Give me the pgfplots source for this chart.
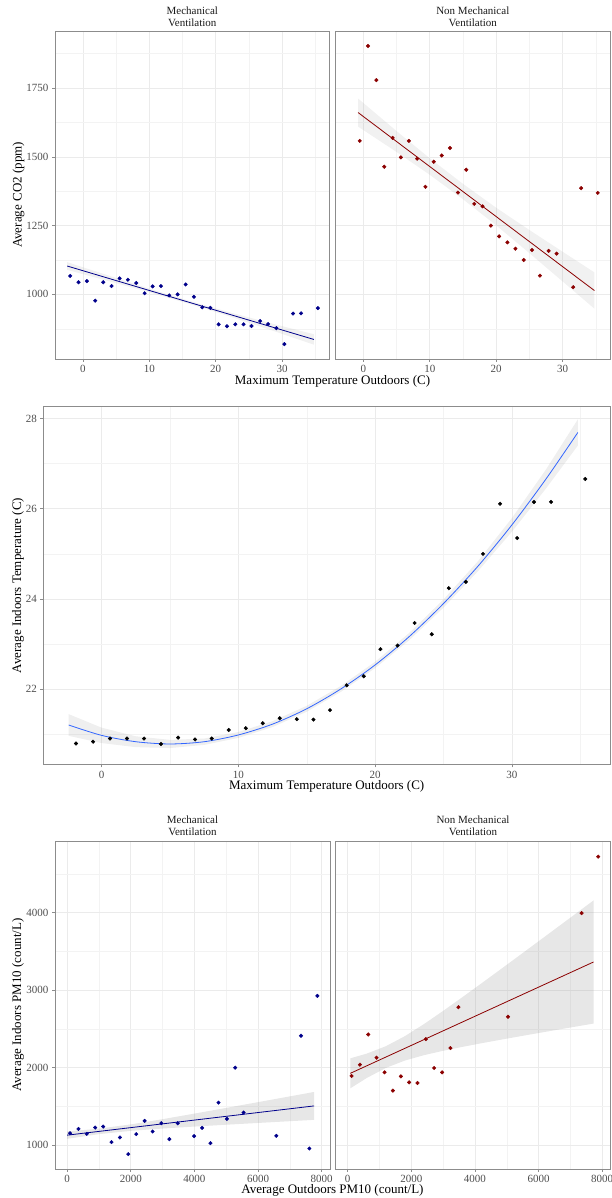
\documentclass[border=0pt]{standalone}
\usepackage{fontspec}
\setmainfont{Liberation Serif}
\usepackage{pgfplots}
\pgfplotsset{compat=1.18}

\definecolor{panelgrid}{HTML}{EBEBEB}
\definecolor{minorgrid}{HTML}{F3F3F3}
\definecolor{framegray}{HTML}{8C8C8C}
\definecolor{ticktext}{HTML}{4D4D4D}
\definecolor{striptext}{HTML}{1A1A1A}
\definecolor{mvblue}{HTML}{00008B}
\definecolor{nmvred}{HTML}{8B0000}
\definecolor{fitblue}{HTML}{3366FF}
\definecolor{bandgray}{HTML}{999999}

\pgfplotsset{
  facet/.style={
    scale only axis, anchor=south west,
    axis line style={framegray, line width=0.6pt},
    grid=both,
    major grid style={panelgrid, line width=0.6pt},
    minor grid style={minorgrid, line width=0.4pt},
    tick align=outside, tick pos=left,
    major tick length=3pt, minor tick length=0pt,
    every tick/.style={framegray, line width=0.6pt},
    tick label style={font=\fontsize{11}{12}\selectfont, text=ticktext},
    /pgf/number format/1000 sep={},
    /pgf/number format/assume math mode=true,
    scaled ticks=false,
  },
  inner facet/.style={yticklabels={}, ytick style={draw=none}},
  pts/.style={only marks, mark=*, mark size=1.8pt, color=#1, mark options={solid, fill=#1}},
  band/.style={draw=none, fill=bandgray, fill opacity=#1, forget plot},
  fit/.style={#1, line width=0.8pt, mark=none},
  co2/.style={xmin=-4.2, xmax=37.15, ymin=765, ymax=1955,
    xtick={0,10,20,30}, minor xtick={5,15,25,35},
    ytick={1000,1250,1500,1750}, minor ytick={875,1125,1375,1625,1875},
    width=274.5pt, height=327.3pt},
  pm/.style={xmin=-380, xmax=8260, ymin=692, ymax=4918,
    xtick={0,2000,4000,6000,8000}, minor xtick={1000,3000,5000,7000},
    ytick={1000,2000,3000,4000}, minor ytick={1500,2500,3500,4500},
    width=275pt, height=327.3pt},
}

\tikzset{
  strip/.style={font=\fontsize{11}{12}\selectfont, align=center, text=striptext},
  axtitle/.style={font=\fontsize{13}{15}\selectfont},
}

\begin{document}
\begin{tikzpicture}
\path[use as bounding box] (0pt,0pt) rectangle (612pt,1198pt);

% ---------- CO2 vs outdoor temperature, mechanical ventilation ----------
\begin{axis}[facet, co2, at={(55pt,839pt)}]
\addplot[pts=mvblue] coordinates {
(-1.91,1067) (-0.65,1044) (0.60,1048) (1.86,977) (3.07,1044) (4.32,1030)
(5.53,1058) (6.78,1053) (8.04,1041) (9.30,1004) (10.50,1029) (11.76,1030)
(13.00,996) (14.27,1000) (15.48,1036) (16.73,991) (17.99,953) (19.20,951)
(20.45,891) (21.70,884) (22.96,891) (24.20,891) (25.40,885) (26.70,903)
(27.90,892) (29.15,877) (30.35,819) (31.66,930) (32.86,931) (35.40,950)};
\addplot[band=0.14] coordinates {
(-2.36,1117) (4,1067.3) (10,1020.7) (16,976.5) (22,935.5) (28,896.8) (34.8,855)
(34.8,817) (28,872.8) (22,920.5) (16,965.5) (10,1007.7) (4,1047.3) (-2.36,1089)};
\addplot[fit=mvblue] coordinates {(-2.36,1103) (34.8,836)};
\end{axis}

% ---------- CO2 vs outdoor temperature, non mechanical ventilation ----------
\begin{axis}[facet, co2, inner facet, at={(335.5pt,839pt)}]
\addplot[pts=nmvred] coordinates {
(-0.55,1558) (0.70,1903) (1.95,1779) (3.15,1464) (4.40,1569) (5.65,1498)
(6.85,1558) (8.10,1493) (9.35,1391) (10.60,1482) (11.80,1505) (13.05,1532)
(14.25,1370) (15.50,1453) (16.70,1329) (17.95,1320) (19.20,1250) (20.45,1211)
(21.70,1189) (22.90,1166) (24.15,1125) (25.40,1161) (26.60,1068) (27.90,1158)
(29.10,1148) (31.60,1026) (32.80,1386) (35.30,1369)};
\addplot[band=0.14] coordinates {
(-0.8,1712) (5,1593.6) (10,1494.7) (15,1401.8) (20,1314.9) (25,1234) (30,1155.1) (34.8,1079.8)
(34.8,947.8) (30,1047.1) (25,1150) (20,1250.9) (15,1345.8) (10,1434.7) (5,1517.6) (-0.8,1610)};
\addplot[fit=nmvred] coordinates {(-0.8,1661) (34.8,1013.8)};
\end{axis}

% ---------- indoor vs outdoor temperature ----------
\begin{axis}[facet, at={(43.3pt,433.7pt)}, width=566.7pt, height=357.6pt,
  xmin=-4.27, xmax=37.18, ymin=20.34, ymax=28.26,
  xtick={0,10,20,30}, minor xtick={5,15,25,35},
  ytick={22,24,26,28}, minor ytick={21,23,25,27}]
\addplot[pts=black] coordinates {
(-1.88,20.80) (-0.63,20.84) (0.61,20.91) (1.85,20.91) (3.10,20.91) (4.34,20.79)
(5.59,20.93) (6.83,20.89) (8.05,20.91) (9.29,21.10) (10.54,21.14) (11.78,21.25)
(13.02,21.36) (14.27,21.34) (15.49,21.33) (16.70,21.54) (17.92,22.09) (19.17,22.29)
(20.39,22.89) (21.64,22.97) (22.89,23.47) (24.14,23.22) (25.39,24.24) (26.64,24.38)
(27.89,25.00) (29.14,26.11) (30.39,25.35) (31.62,26.15) (32.87,26.15) (35.37,26.66)};
\addplot[band=0.16] coordinates {
(-2.41,21.45) (0,21.15) (2.5,20.96) (5,20.88) (7.5,20.91) (10,21.055) (12.5,21.295)
(15,21.635) (17.5,22.075) (20,22.61) (22.5,23.25) (25,23.99) (27.5,24.83) (30,25.79)
(32.5,26.87) (34.83,27.98)
(34.83,27.40) (32.5,26.45) (30,25.49) (27.5,24.61) (25,23.81) (22.5,23.09) (20,22.47)
(17.5,21.945) (15,21.505) (12.5,21.165) (10,20.925) (7.5,20.77) (5,20.70) (2.5,20.72)
(0,20.81) (-2.41,20.97)};
\addplot[fit=fitblue, smooth] coordinates {
(-2.41,21.21) (0,20.98) (2.5,20.84) (5,20.79) (7.5,20.84) (10,20.99) (12.5,21.23)
(15,21.57) (17.5,22.01) (20,22.54) (22.5,23.17) (25,23.90) (27.5,24.72) (30,25.64)
(32.5,26.66) (34.83,27.69)};
\end{axis}

% ---------- indoor vs outdoor PM10, mechanical ventilation ----------
\begin{axis}[facet, pm, at={(55pt,29pt)}]
\addplot[pts=mvblue] coordinates {
(94,1154) (357,1210) (620,1146) (882,1227) (1134,1240) (1396,1039) (1659,1099)
(1921,884) (2173,1142) (2436,1313) (2688,1176) (2961,1283) (3213,1077) (3475,1283)
(3990,1116) (4242,1223) (4504,1026) (4756,1549) (5019,1339) (5281,2000) (5544,1421)
(6573,1120) (7350,2412) (7612,957) (7864,2927)};
\addplot[band=0.24] coordinates {
(0,1175.8) (1000,1212.8) (2000,1267.7) (3000,1335.1) (4000,1407.1) (5000,1480.7)
(6000,1555.1) (7000,1629.8) (7760,1686.7)
(7760,1326.5) (7000,1309.4) (6000,1286.7) (5000,1263.7) (4000,1239.9) (3000,1214.5)
(2000,1184.7) (1000,1142.2) (0,1081.8)};
\addplot[fit=mvblue] coordinates {(0,1128.8) (7760,1506.6)};
\end{axis}

% ---------- indoor vs outdoor PM10, non mechanical ventilation ----------
\begin{axis}[facet, pm, inner facet, at={(335.5pt,29pt)}]
\addplot[pts=nmvred] coordinates {
(125,1893) (387,2039) (648,2429) (910,2129) (1161,1940) (1422,1704) (1673,1888)
(1934,1811) (2196,1803) (2457,2369) (2719,1996) (2970,1940) (3231,2253) (3482,2781)
(5040,2657) (7351,3996) (7874,4725)};
\addplot[band=0.24] coordinates {
(84,2120.6) (600,2181.5) (1200,2276.9) (1800,2407.2) (2400,2563.3) (3000,2732.7)
(3600,2908.4) (4200,3087.2) (4800,3267.8) (5400,3449.6) (6000,3632.1) (6600,3815.1)
(7200,3998.3) (7728,4160)
(7728,2570) (7200,2532.9) (6600,2490.5) (6000,2447.7) (5400,2404.4) (4800,2360.4)
(4200,2315.4) (3600,2268.4) (3000,2218.3) (2400,2161.9) (1800,2092.4) (1200,1996.9)
(600,1866.7) (84,1733.4)};
\addplot[fit=nmvred] coordinates {(84,1927) (7728,3365)};
\end{axis}

% ---------- strip labels and axis titles ----------
\node[strip] at (192.3pt,1181.5pt) {Mechanical\\Ventilation};
\node[strip] at (472.8pt,1181.5pt) {Non Mechanical\\Ventilation};
\node[axtitle] at (332.5pt,817pt) {Maximum Temperature Outdoors (C)};
\node[axtitle, rotate=90] at (18.5pt,1003pt) {Average CO2 (ppm)};

\node[axtitle] at (326.7pt,412pt) {Maximum Temperature Outdoors (C)};
\node[axtitle, rotate=90] at (18pt,612.5pt) {Average Indoors Temperature (C)};

\node[strip] at (192.5pt,372pt) {Mechanical\\Ventilation};
\node[strip] at (473pt,372pt) {Non Mechanical\\Ventilation};
\node[axtitle] at (332.5pt,8pt) {Average Outdoors PM10 (count/L)};
\node[axtitle, rotate=90] at (18pt,193pt) {Average Indoors PM10 (count/L)};
\end{tikzpicture}
\end{document}
